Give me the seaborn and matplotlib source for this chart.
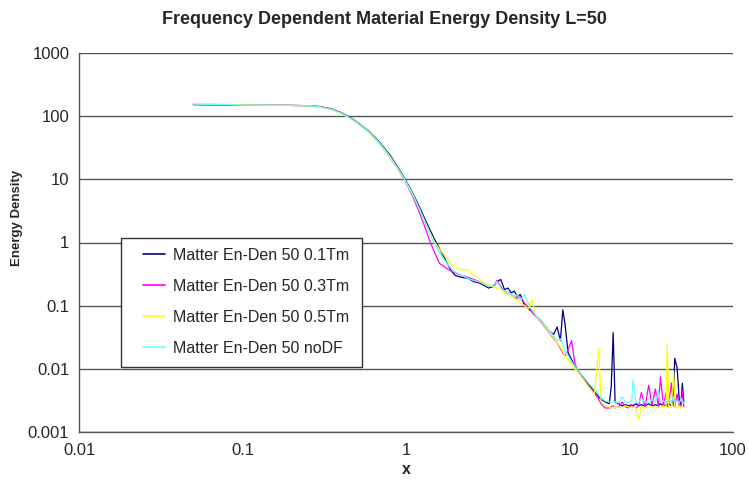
import matplotlib
matplotlib.use("Agg")
import matplotlib.pyplot as plt
from matplotlib.patches import Rectangle
import seaborn as sns
import pandas as pd

x_vals = [0.05, 0.07, 0.1, 0.14, 0.2, 0.25, 0.3, 0.35, 0.4, 0.45,
          0.5, 0.6, 0.7, 0.8, 0.9, 1.0, 1.1, 1.2, 1.3, 1.4,
          1.5, 1.6, 1.7, 1.8, 1.9, 2.0, 2.2, 2.4, 2.6, 2.8,
          3.0, 3.2, 3.4, 3.6, 3.8, 4.0, 4.2, 4.4, 4.6, 4.8,
          5.0, 5.3, 5.6, 5.9, 6.2, 6.6, 7.0, 7.5, 8.0, 8.4,
          8.8, 9.1, 9.4, 9.8, 10.3, 10.8, 11.5, 12.3, 13.2, 14.2,
          15.1, 15.6, 16.5, 17.5, 18.0, 18.5, 19.0, 20, 21, 22,
          23, 24, 24.5, 25.5, 26.5, 27.5, 29, 30.5, 32, 33.5,
          35, 36, 37.5, 39, 39.6, 40.5, 42, 43.3, 44, 45.5,
          47, 48, 49, 50]

y_01tm = [152, 151, 150, 149, 148, 146, 141, 130, 114, 97,
          81, 56, 37, 24, 15, 9.5, 6.0, 3.8, 2.4, 1.6,
          1.1, 0.8, 0.6, 0.45, 0.35, 0.30, 0.28, 0.27, 0.24, 0.23,
          0.21, 0.19, 0.20, 0.24, 0.26, 0.18, 0.19, 0.16, 0.17, 0.14,
          0.15, 0.10, 0.09, 0.08, 0.07, 0.06, 0.05, 0.04, 0.035, 0.046,
          0.028, 0.086, 0.05, 0.018, 0.014, 0.011, 0.0088, 0.0070, 0.0055, 0.0044,
          0.0036, 0.0033, 0.0030, 0.0028, 0.0052, 0.0375, 0.0030, 0.0028, 0.0026, 0.0027,
          0.0026, 0.0027, 0.0026, 0.0028, 0.0026, 0.0027, 0.0026, 0.0028, 0.0026, 0.0027,
          0.0026, 0.0028, 0.0026, 0.0027, 0.0026, 0.0028, 0.0026, 0.0040, 0.0147, 0.0104,
          0.0030, 0.0027, 0.0059, 0.0030]

y_03tm = [154, 152, 150, 149, 148, 147, 142, 130, 113, 95,
          79, 54, 35, 22, 14, 8.8, 5.3, 3.1, 1.8, 1.05,
          0.68, 0.47, 0.42, 0.38, 0.35, 0.33, 0.30, 0.28, 0.26, 0.24,
          0.22, 0.21, 0.20, 0.25, 0.20, 0.17, 0.16, 0.15, 0.14, 0.13,
          0.14, 0.11, 0.095, 0.08, 0.068, 0.057, 0.047, 0.038, 0.030, 0.026,
          0.021, 0.018, 0.016, 0.020, 0.028, 0.012, 0.0085, 0.0068, 0.0052, 0.0042,
          0.0033, 0.0028, 0.0024, 0.0024, 0.0025, 0.0026, 0.0024, 0.0025, 0.0030, 0.0025,
          0.0024, 0.0027, 0.0025, 0.0024, 0.0026, 0.0042, 0.0025, 0.0055, 0.0026, 0.0048,
          0.0025, 0.0075, 0.0026, 0.0042, 0.0025, 0.0028, 0.0060, 0.0026, 0.0025, 0.0040,
          0.0026, 0.0025, 0.0046, 0.0025]

y_05tm = [158, 156, 151, 149, 148, 145, 138, 126, 110, 93,
          78, 54, 35, 22, 14, 9.0, 5.6, 3.5, 2.2, 1.45,
          1.0, 0.78, 0.65, 0.55, 0.45, 0.40, 0.37, 0.37, 0.30, 0.27,
          0.23, 0.21, 0.20, 0.19, 0.18, 0.16, 0.15, 0.14, 0.13, 0.12,
          0.11, 0.10, 0.09, 0.124, 0.07, 0.058, 0.048, 0.039, 0.031, 0.026,
          0.022, 0.019, 0.016, 0.014, 0.012, 0.010, 0.0082, 0.0065, 0.0050, 0.0040,
          0.021, 0.0030, 0.0026, 0.0025, 0.0024, 0.0025, 0.0024, 0.0025, 0.0024, 0.0026,
          0.0025, 0.0024, 0.0025, 0.0024, 0.0016, 0.0025, 0.0024, 0.0026, 0.0025, 0.0024,
          0.0025, 0.0024, 0.0026, 0.0025, 0.0248, 0.0025, 0.0024, 0.0093, 0.0025, 0.0024,
          0.0026, 0.0024, 0.0025, 0.0024]

y_nodf = [155, 153, 150, 149, 148, 146, 140, 128, 112, 95,
          80, 55, 36, 23, 14.5, 9.2, 5.8, 3.5, 2.1, 1.35,
          0.95, 0.7, 0.55, 0.45, 0.38, 0.34, 0.30, 0.27, 0.25, 0.24,
          0.22, 0.20, 0.21, 0.24, 0.19, 0.17, 0.16, 0.15, 0.14, 0.15,
          0.12, 0.15, 0.11, 0.085, 0.072, 0.06, 0.05, 0.041, 0.033, 0.028,
          0.030, 0.024, 0.019, 0.016, 0.013, 0.011, 0.009, 0.0073, 0.0058, 0.0047,
          0.0039, 0.0035, 0.0031, 0.0030, 0.0029, 0.0031, 0.0030, 0.0029, 0.0036, 0.0030,
          0.0029, 0.0031, 0.0067, 0.0030, 0.0029, 0.0034, 0.0030, 0.0029, 0.0033, 0.0030,
          0.0045, 0.0030, 0.0031, 0.0029, 0.0030, 0.0033, 0.0030, 0.0036, 0.0030, 0.0031,
          0.0029, 0.0034, 0.0030, 0.0029]

series_names = ["Matter En-Den 50 0.1Tm", "Matter En-Den 50 0.3Tm",
                "Matter En-Den 50 0.5Tm", "Matter En-Den 50 noDF"]
series_values = [y_01tm, y_03tm, y_05tm, y_nodf]
series_colors = ["#000080", "#ff00ff", "#ffff00", "#66ffff"]

x_ticks = [0.01, 0.1, 1, 10, 100]
x_tick_labels = ["0.01", "0.1", "1", "10", "100"]
y_ticks = [0.001, 0.01, 0.1, 1, 10, 100, 1000]
y_tick_labels = ["0.001", "0.01", "0.1", "1", "10", "100", "1000"]

rows = []
for name, vals in zip(series_names, series_values):
    for xv, yv in zip(x_vals, vals):
        rows.append({"x": xv, "Energy Density": yv, "series": name})
df = pd.DataFrame(rows)

sns.set_style("white")
plt.rcParams['font.family'] = ['Liberation Sans', 'DejaVu Sans']

W, H = 749, 482
fig = plt.figure(figsize=(W / 100, H / 100), dpi=100)
ax = fig.add_axes([79 / W, 1 - 432 / H, (733 - 79) / W, (432 - 53) / H])

sns.lineplot(data=df, x="x", y="Energy Density", hue="series",
             hue_order=series_names, palette=series_colors,
             estimator=None, sort=False, linewidth=0.9, ax=ax, legend=True)

ax.set_xscale("log")
ax.set_yscale("log")
ax.set_xlim(0.01, 100)
ax.set_ylim(0.001, 1000)
ax.set_xticks(x_ticks)
ax.set_xticklabels(x_tick_labels)
ax.set_yticks(y_ticks)
ax.set_yticklabels(y_tick_labels)
ax.minorticks_off()

ax.yaxis.grid(True, color="#555555", linewidth=1.0)
ax.xaxis.grid(False)
ax.set_axisbelow(True)

for side in ["top", "right"]:
    ax.spines[side].set_visible(False)
for side in ["left", "bottom"]:
    ax.spines[side].set_color("#555555")
    ax.spines[side].set_linewidth(1.0)

ax.tick_params(axis="x", direction="in", length=4, width=1.0, color="#555555",
               labelsize=12, pad=8)
ax.tick_params(axis="y", direction="out", length=5, width=1.0, color="#555555",
               labelsize=12, pad=2)

ax.set_xlabel("")
ax.set_ylabel("")
fig.text(406 / W, 1 - 470 / H, "x", fontsize=11.5, fontweight="bold",
         ha="center", va="center")
fig.text(17 / W, 1 - 218 / H, "Energy Density", fontsize=9.5, fontweight="bold",
         ha="center", va="center", rotation=90)
fig.text(384 / W, 1 - 20 / H, "Frequency Dependent Material Energy Density L=50",
         fontsize=13, fontweight="bold", ha="center", va="center")

# legend box
box = Rectangle((121 / W, 1 - 367 / H), (362 - 121) / W, (367 - 238) / H,
                transform=fig.transFigure, facecolor="white",
                edgecolor="#333333", linewidth=1.0, zorder=4.5)
ax.add_artist(box)
box.set_clip_on(False)

handles, labels = ax.get_legend_handles_labels()
leg = ax.legend(handles, labels, loc="upper left",
                bbox_to_anchor=(143 / W, 1 - 248 / H),
                bbox_transform=fig.transFigure,
                fontsize=11.5, frameon=False,
                borderpad=0, labelspacing=1.0, handlelength=1.4,
                handletextpad=0.5, borderaxespad=0)
leg.set_zorder(6)
for line in leg.get_lines():
    line.set_linewidth(1.2)

fig.savefig("out.png", dpi=100)
